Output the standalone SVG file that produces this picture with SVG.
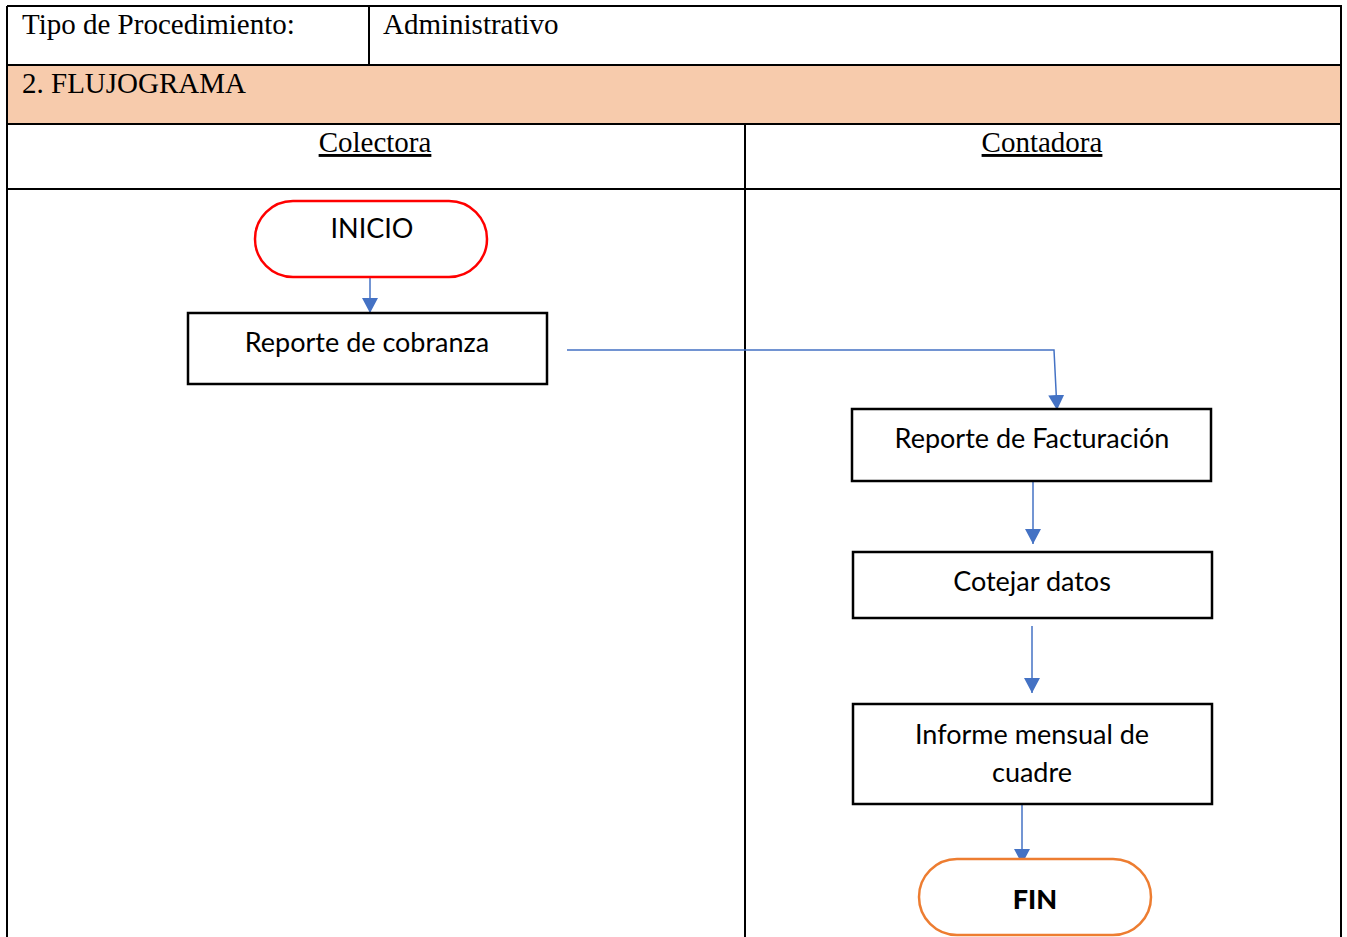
<svg xmlns="http://www.w3.org/2000/svg" width="1347" height="937" viewBox="0 0 1347 937">
  <style>
    .grid { stroke: #000; stroke-width: 2; fill: none; }
    .hdr { font-family: "Liberation Serif", "Times New Roman", serif; font-size: 29px; fill: #000; }
    .lane { font-family: "Liberation Serif", "Times New Roman", serif; font-size: 29px; fill: #000; text-anchor: middle; text-decoration: underline; }
    .box { fill: #fff; stroke: #000; stroke-width: 2.5; }
    .lbl { font-family: "Lato", "Open Sans", sans-serif; font-size: 27px; fill: #000; text-anchor: middle; }
    .flow { fill: none; stroke: #4472C4; stroke-width: 1.5; marker-end: url(#arrow); }
  </style>
  <defs>
    <!-- filled triangular arrowhead, tip sits on the path end -->
    <marker id="arrow" markerUnits="userSpaceOnUse" markerWidth="15" markerHeight="16" viewBox="0 0 15 16" refX="15" refY="8" orient="auto">
      <path d="M0,0 L15,8 L0,16 Z" fill="#4472C4"/>
    </marker>
  </defs>
  <rect width="1347" height="937" fill="#fff"/>

  <!-- header table -->
  <g id="table">
    <rect x="7" y="65" width="1334" height="59" fill="#F7CBAC"/>
    <path class="grid" d="M7,6 H1341 V937 M7,6 V937 M7,65 H1341 M7,124 H1341 M7,189 H1341 M369,6 V65 M745,124 V937"/>
    <text class="hdr" x="22" y="34">Tipo de Procedimiento:</text>
    <text class="hdr" x="383" y="34">Administrativo</text>
    <text class="hdr" x="22" y="93">2. FLUJOGRAMA</text>
    <text class="lane" x="375" y="152">Colectora</text>
    <text class="lane" x="1042" y="152">Contadora</text>
  </g>

  <!-- connectors -->
  <g id="connectors">
    <path class="flow" d="M370,277 V313"/>
    <path class="flow" d="M567,350 H1054 L1057,410"/>
    <path class="flow" d="M1033,481 V544"/>
    <path class="flow" d="M1032,626 V693"/>
    <path class="flow" d="M1022,797 V864"/>
  </g>

  <g id="inicio">
    <rect x="255" y="201" width="232" height="76" rx="38" fill="#fff" stroke="#FF0000" stroke-width="2.5"/>
    <text class="lbl" x="372" y="238">INICIO</text>
  </g>
  <g id="reporte-cobranza">
    <rect class="box" x="188" y="313" width="359" height="71"/>
    <text class="lbl" x="367" y="352">Reporte de cobranza</text>
  </g>
  <g id="reporte-facturacion">
    <rect class="box" x="852" y="409" width="359" height="72"/>
    <text class="lbl" x="1032" y="448">Reporte de Facturación</text>
  </g>
  <g id="cotejar-datos">
    <rect class="box" x="853" y="552" width="359" height="66"/>
    <text class="lbl" x="1032" y="591">Cotejar datos</text>
  </g>
  <g id="informe-mensual">
    <rect class="box" x="853" y="704" width="359" height="100"/>
    <text class="lbl" x="1032" y="744">Informe mensual de</text>
    <text class="lbl" x="1032" y="782">cuadre</text>
  </g>
  <g id="fin">
    <rect x="919" y="859" width="232" height="76" rx="38" fill="#fff" stroke="#ED7D31" stroke-width="2.5"/>
    <text class="lbl" x="1035" y="909" font-weight="900">FIN</text>
  </g>
</svg>
